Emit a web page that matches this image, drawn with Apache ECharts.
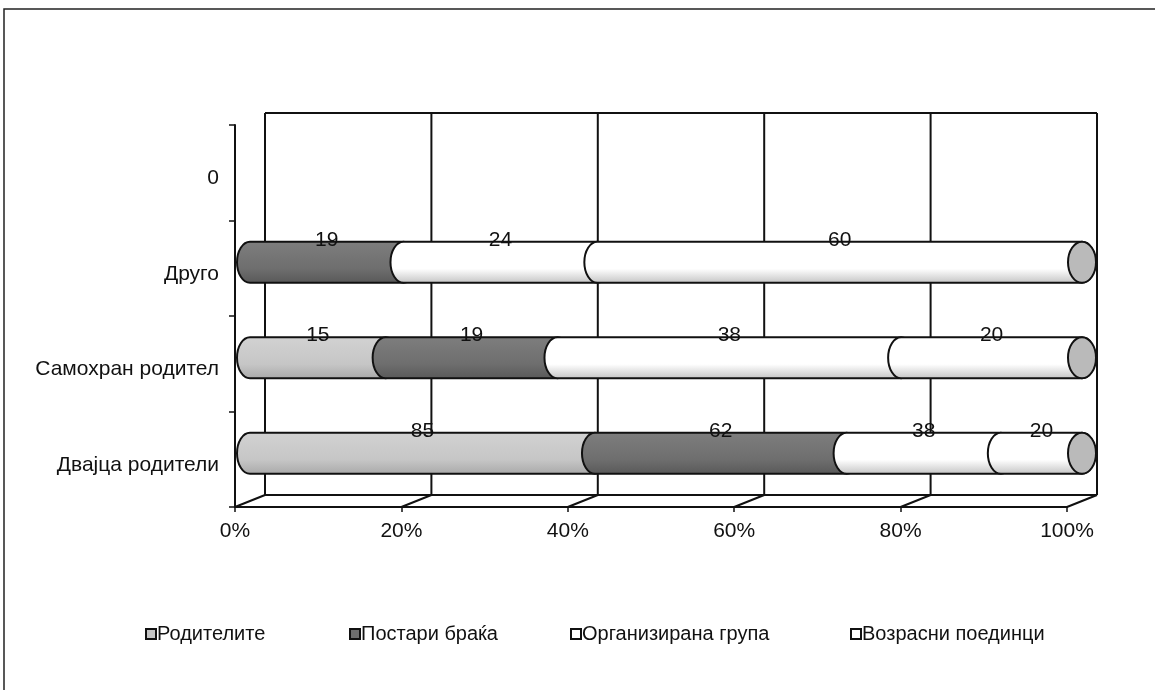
<!DOCTYPE html>
<html>
<head>
<meta charset="utf-8">
<script src="https://cdn.jsdelivr.net/npm/echarts@6/dist/echarts.min.js"></script>
<style>
  html, body { margin: 0; padding: 0; background: #fff; }
  #chart { width: 1155px; height: 690px; }
</style>
</head>
<body>
<div id="chart"></div>
<script>
// ---- data ----
const categories = ['Двајца родители', 'Самохран родител', 'Друго', '0'];
const seriesNames = ['Родителите', 'Постари браќа', 'Организирана група', 'Возрасни поединци'];
const roditelite = [85, 15, 0, 0];
const postariBraka = [62, 19, 19, 0];
const organiziranaGrupa = [38, 38, 24, 0];
const vozrasniPoedinci = [20, 20, 60, 0];
const xTicks = [0, 20, 40, 60, 80, 100];

// ---- styles ----
const FONT = '"Liberation Sans", Arial, sans-serif';
const FS = 21;
const DX = 30, DY = -12;          // depth of 3D box
const MX = DX / 2, MY = DY / 2;    // mid-depth (bars)
const RX = 13;
const fills = [
  ['#d2d2d2', '#c6c6c6', '#a8a8a8'],
  ['#7e7e7e', '#6e6e6e', '#585858'],
  ['#ffffff', '#ffffff', '#c2c2c2'],
  ['#ffffff', '#ffffff', '#c2c2c2']
];
const legendColors = ['#c4c4c4', '#6e6e6e', '#ffffff', '#ffffff'];

const raw = [roditelite, postariBraka, organiziranaGrupa, vozrasniPoedinci];
const totals = categories.map((c, i) => raw.reduce((s, a) => s + (a[i] || 0), 0));

function buildData(k) {
  const out = [];
  categories.forEach((c, i) => {
    const v = raw[k][i];
    if (!v || !totals[i]) return;
    let before = 0;
    for (let j = 0; j < k; j++) before += raw[j][i] || 0;
    const isLast = raw.slice(k + 1).every(a => !a[i]);
    out.push([before / totals[i] * 100, (before + v) / totals[i] * 100, i, v, isLast ? 1 : 0]);
  });
  return out;
}

function grad(c) {
  return new echarts.graphic.LinearGradient(0, 0, 0, 1, [
    { offset: 0, color: c[0] },
    { offset: 0.65, color: c[1] },
    { offset: 1, color: c[2] }
  ]);
}

function makeBarRender(k) {
  return function (params, api) {
    const s = api.value(0), e = api.value(1), ci = api.value(2), v = api.value(3), last = api.value(4);
    const p0 = api.coord([s, ci]);
    const p1 = api.coord([e, ci]);
    const band = api.size([0, 1])[1];
    const h = band * 0.43;
    const ry = h / 2;
    const cy = p0[1] + MY;
    const x0 = p0[0] + MX, x1 = p1[0] + MX;
    const yt = cy - ry, yb = cy + ry;
    const d = 'M' + x0 + ' ' + yt +
      ' A' + RX + ' ' + ry + ' 0 0 0 ' + x0 + ' ' + yb +
      ' L' + x1 + ' ' + yb +
      ' A' + RX + ' ' + ry + ' 0 0 0 ' + x1 + ' ' + yt + ' Z';
    const children = [{
      type: 'path',
      shape: { pathData: d },
      style: { fill: grad(fills[k]), stroke: '#111', lineWidth: 2 }
    }];
    if (last) {
      children.push({
        type: 'path',
        shape: {
          pathData: 'M' + x1 + ' ' + yt +
            ' A' + (RX + 1) + ' ' + ry + ' 0 0 1 ' + x1 + ' ' + yb +
            ' A' + (RX + 1) + ' ' + ry + ' 0 0 1 ' + x1 + ' ' + yt + ' Z'
        },
        style: { fill: '#bababa', stroke: '#111', lineWidth: 2 }
      });
    }
    children.push({
      type: 'text',
      style: {
        text: String(v), x: (x0 + x1) / 2, y: yt - 2,
        fill: '#111', font: FS + 'px ' + FONT,
        align: 'center', verticalAlign: 'middle',
        textAlign: 'center', textVerticalAlign: 'middle'
      },
      z2: 10
    });
    return { type: 'group', children: children };
  };
}

function wallRender(params, api) {
  const cs = params.coordSys;
  const v = api.value(0);
  const p = api.coord([v, 0]);
  const x = p[0];
  const top = cs.y, bottom = cs.y + cs.height;
  const ls = { stroke: '#111', lineWidth: 2 };
  const children = [
    { type: 'line', shape: { x1: x + DX, y1: top + DY, x2: x + DX, y2: bottom + DY }, style: ls },
    { type: 'line', shape: { x1: x, y1: bottom, x2: x + DX, y2: bottom + DY }, style: ls }
  ];
  if (params.dataIndex === 0) {
    children.push({ type: 'line', shape: { x1: cs.x + DX, y1: top + DY, x2: cs.x + cs.width + DX, y2: top + DY }, style: ls });
    children.push({ type: 'line', shape: { x1: cs.x + DX, y1: bottom + DY, x2: cs.x + cs.width + DX, y2: bottom + DY }, style: ls });
  }
  return { type: 'group', children: children };
}

const series = [{
  type: 'custom',
  name: '_wall',
  z: 1,
  silent: true,
  renderItem: wallRender,
  data: xTicks.map(t => [t, 0]),
  encode: { x: 0, y: 1 }
}];
seriesNames.forEach((n, k) => {
  series.push({
    type: 'custom',
    name: n,
    z: 3 + k,
    renderItem: makeBarRender(k),
    itemStyle: { color: legendColors[k] },
    dimensions: ['start', 'end', 'cat', 'val', 'last'],
    encode: { x: [0, 1], y: 2 },
    data: buildData(k)
  });
});

const legendLefts = [140, 344, 565, 845];
const legends = seriesNames.map((n, k) => ({
  data: [n],
  left: legendLefts[k],
  top: 619,
  icon: 'rect',
  itemWidth: 10,
  itemHeight: 10,
  itemGap: 0,
  selectedMode: false,
  itemStyle: { borderColor: '#111', borderWidth: 2 },
  textStyle: { fontFamily: FONT, fontSize: FS - 1, color: '#111', padding: [0, 0, 0, -4] }
}));

const chart = echarts.init(document.getElementById('chart'), null, { renderer: 'canvas' });
chart.setOption({
  animation: false,
  backgroundColor: '#fff',
  graphic: [{
    type: 'rect',
    shape: { x: 4, y: 9, width: 1170, height: 700 },
    style: { fill: 'none', stroke: '#222', lineWidth: 1.5 },
    silent: true
  }],
  legend: legends,
  grid: { left: 235, top: 125, width: 832, height: 382, containLabel: false },
  xAxis: {
    type: 'value',
    min: 0, max: 100, interval: 20,
    axisLine: { show: true, lineStyle: { color: '#111', width: 2 } },
    axisTick: { show: true, length: 5, lineStyle: { color: '#111', width: 1.5 } },
    splitLine: { show: false },
    axisLabel: { formatter: '{value}%', fontFamily: FONT, fontSize: FS, color: '#111', margin: 14 }
  },
  yAxis: {
    type: 'category',
    data: categories,
    axisLine: { show: true, lineStyle: { color: '#111', width: 2 } },
    axisTick: { show: true, length: 6, lineStyle: { color: '#111', width: 1.5 } },
    splitLine: { show: false },
    axisLabel: {
      margin: 16,
      formatter: v => '{c|' + v + '}',
      rich: { c: { fontFamily: FONT, fontSize: FS, color: '#111', padding: [11, 0, 0, 0] } }
    }
  },
  series: series
});
</script>
</body>
</html>
